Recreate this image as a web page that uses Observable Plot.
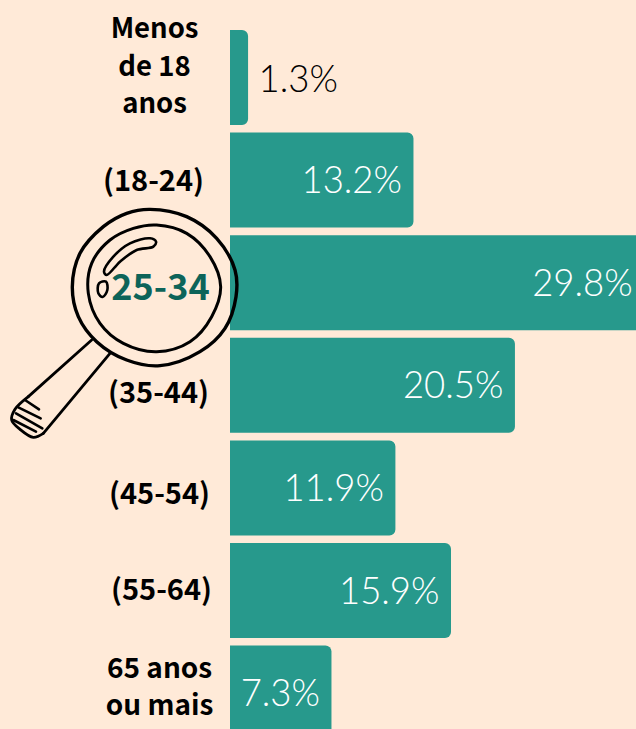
<!DOCTYPE html>
<html><head><meta charset="utf-8">
<script src="https://cdn.jsdelivr.net/npm/d3@7"></script>
<script src="https://cdn.jsdelivr.net/npm/@observablehq/plot@0.6"></script>
<style>html,body{margin:0;padding:0;background:#ffead8;overflow:hidden}svg{display:block}</style>
</head><body><div id="c"></div>
<script>
const categories = ["Menos\nde 18\nanos","(18-24)","25-34","(35-44)","(45-54)","(55-64)","65 anos\nou mais"];
const shares = [1.3,13.2,29.8,20.5,11.9,15.9,7.3];
const rows = categories.map((c,i)=>({c,v:shares[i],hi:c==="25-34"}));
// label nudges (style only)
const labelDx = [-3,-4,3,1,2,4,2];
const labelDy = [-14,-2,5,5,4,-3,-9];
const labelSize = [27.5,29,36,29,29,29,28];
const BAR="#27998c", INK="#000", DARK="#0d6459";
const sans = "'Noto Sans CJK SC'";
const valueFont = "Lato";

function magnifier(){
  const g=d3.create("svg:g").attr("fill","none").attr("stroke",INK).attr("stroke-linejoin","round").attr("stroke-linecap","round");
  const z=p=>p.map(([a,b])=>[a/3,200+b/3]);
  const closed=d3.line().curve(d3.curveCatmullRomClosed.alpha(.5));
  const open=d3.line().curve(d3.curveCatmullRom.alpha(.5));
  const outer=[[450,28],[560,50],[650,115],[705,210],[708,290],[675,385],[600,455],[480,497],[380,480],[290,425],[235,350],[217,260],[240,160],[310,80],[380,40]];
  const inner=[[470,75],[560,100],[630,170],[662,260],[635,350],[570,425],[470,455],[370,430],[300,370],[265,280],[275,190],[330,120],[400,85]];
  const shine=[[312,215],[340,170],[390,130],[450,115],[468,125],[460,140],[410,150],[360,185],[320,225]];
  const spot=[[318,245],[322,270],[308,291],[295,280],[297,250]];
  g.append("path").attr("d",closed(z(outer))).attr("stroke-width",3.4);
  g.append("path").attr("d",closed(z(inner))).attr("stroke-width",3);
  g.append("path").attr("d",closed(z(shine))).attr("stroke-width",2.6);
  g.append("path").attr("d",closed(z(spot))).attr("stroke-width",2.6);
  g.append("path").attr("stroke-width",2.8).attr("d",d3.line()(z([[275,420],[85,590]])));
  g.append("path").attr("stroke-width",2.8).attr("d",open(z([[85,590],[45,628],[35,660],[60,688],[100,712],[130,700]])));
  g.append("path").attr("stroke-width",2.8).attr("d",d3.line()(z([[130,700],[330,460]])));
  [[[75,600],[117,628]],[[55,622],[122,655]],[[48,640],[127,685]],[[40,660],[108,695]]].forEach(s=>
    g.append("path").attr("stroke-width",2.6).attr("d",d3.line()(z(s))));
  return g.node();
}

const labelMarks = rows.map((r,i)=>Plot.text([r],{
  x:()=>0,y:"c",text:"c",dx:labelDx[i]-73,dy:labelDy[i],
  fontFamily:sans,fontWeight:700,fontSize:labelSize[i],lineHeight:37.5/labelSize[i],
  fill:r.hi?DARK:INK,textAnchor:"middle"
}));

const chart = Plot.plot({
  width:636,height:729,margin:0,
  style:{background:"#ffead8",overflow:"hidden"},
  x:{domain:[0,29.8],range:[230,644.2],axis:null},
  y:{domain:categories,range:[22.4,748.2],padding:0.074,round:false,axis:null},
  marks:[
    Plot.barX(rows,{x:"v",y:"c",fill:BAR,rx2:6,clip:"frame"}),
    magnifier,
    ...labelMarks,
    Plot.text(rows.filter(r=>r.v>=5),{x:"v",y:"c",text:d=>d.v.toFixed(1)+"%",textAnchor:"end",dx:-12,dy:1,
      fill:"#fff",fontFamily:valueFont,fontWeight:300,fontSize:36.5}),
    Plot.text(rows.filter(r=>r.v<5),{x:"v",y:"c",text:d=>d.v.toFixed(1)+"%",textAnchor:"start",dx:10,dy:2,
      fill:"#000",fontFamily:valueFont,fontWeight:300,fontSize:36.5})
  ]
});
document.getElementById("c").append(chart);
</script></body></html>
